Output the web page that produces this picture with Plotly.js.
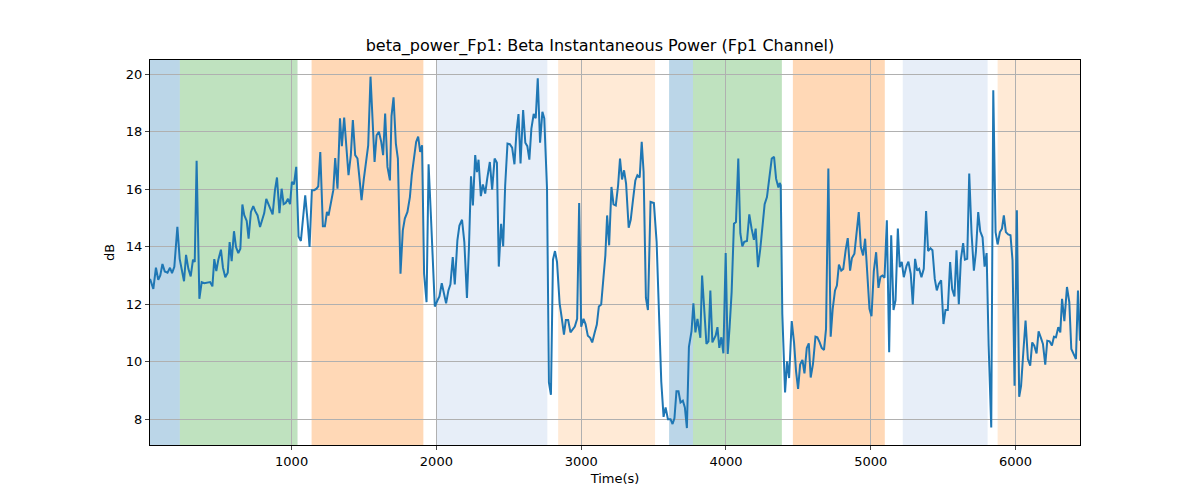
<!DOCTYPE html>
<html>
<head>
<meta charset="utf-8">
<script src="https://cdn.plot.ly/plotly-3.0.1.min.js"></script>
<style>body{margin:0;background:#fff}</style>
</head>
<body>
<div id="chart" style="width:1200px;height:500px"></div>
<script>
const timeS = [22,45,63,79,93,108,124,143,160,174,190,211,227,241,257,271,287,303,319,331,344,363,379,397,420,437,453,466,480,494,512,526,542,559,572,586,602,616,632,646,660,673,690,703,719,735,749,765,782,798,811,825,839,853,869,885,899,916,931,945,959,975,989,1002,1016,1032,1048,1064,1078,1094,1110,1124,1140,1156,1172,1184,1198,1216,1230,1244,1255,1271,1288,1301,1317,1334,1347,1363,1377,1393,1409,1423,1439,1455,1469,1483,1499,1515,1529,1545,1559,1573,1587,1603,1619,1632,1646,1662,1679,1690,1704,1720,1734,1752,1768,1782,1800,1817,1830,1846,1860,1874,1888,1901,1915,1932,1946,1961,1975,1989,2007,2021,2037,2051,2067,2083,2097,2113,2127,2145,2159,2177,2193,2211,2225,2239,2252,2268,2280,2291,2307,2321,2337,2351,2369,2385,2402,2418,2431,2447,2461,2475,2491,2507,2523,2539,2553,2567,2581,2599,2614,2628,2642,2656,2672,2686,2700,2716,2732,2745,2764,2777,2791,2805,2819,2833,2851,2865,2881,2894,2910,2926,2943,2956,2972,2986,3000,3016,3030,3046,3062,3076,3092,3108,3122,3138,3154,3167,3179,3193,3209,3223,3239,3255,3268,3282,3296,3310,3328,3342,3358,3374,3388,3404,3418,3431,3447,3461,3479,3502,3521,3534,3553,3569,3583,3599,3617,3631,3644,3658,3672,3686,3702,3716,3730,3744,3762,3775,3789,3803,3812,3823,3835,3849,3865,3879,3892,3906,3918,3929,3941,3954,3968,3982,3998,4012,4025,4039,4055,4069,4085,4099,4113,4126,4145,4161,4177,4193,4205,4221,4237,4251,4267,4283,4296,4316,4332,4346,4362,4371,4378,4389,4408,4422,4436,4454,4470,4484,4498,4512,4528,4542,4558,4572,4585,4601,4618,4631,4647,4661,4677,4691,4707,4723,4737,4753,4766,4780,4796,4810,4827,4841,4857,4870,4887,4901,4917,4931,4947,4961,4975,4991,5005,5021,5037,5053,5067,5081,5095,5111,5127,5141,5157,5171,5187,5200,5214,5228,5247,5260,5276,5290,5306,5320,5334,5350,5366,5382,5396,5412,5426,5442,5456,5470,5486,5502,5516,5532,5548,5562,5578,5592,5608,5622,5638,5650,5666,5680,5696,5712,5726,5742,5756,5772,5786,5800,5814,5832,5846,5862,5876,5892,5906,5919,5933,5949,5965,5979,5993,6009,6025,6038,6055,6069,6085,6101,6115,6129,6145,6159,6175,6189,6205,6219,6235,6251,6265,6279,6295,6309,6321,6337,6355,6371,6385,6401,6417,6431,6445];
const powerDb = [12.88,12.53,13.27,12.85,13.0,13.4,13.14,13.1,13.27,13.08,13.3,14.69,13.58,13.23,12.8,13.72,13.23,12.97,13.55,13.47,16.99,12.19,12.77,12.73,12.76,12.77,12.62,13.57,13.15,13.55,13.9,13.27,12.94,13.1,14.16,13.5,14.54,13.99,13.78,13.93,15.47,15.1,14.9,14.28,15.21,15.41,15.24,15.09,14.69,14.94,15.17,15.67,15.5,15.33,15.13,15.97,16.41,15.17,16.02,15.48,15.52,15.67,15.48,16.26,16.17,16.78,14.36,14.2,15.03,15.79,14.92,13.99,15.97,15.97,16.02,16.1,17.3,14.71,14.71,15.21,15.09,15.56,15.97,17.09,16.02,18.47,17.5,18.5,17.45,16.49,17.19,18.41,17.19,17.07,16.37,15.62,16.37,17.01,17.53,19.92,18.17,16.95,17.88,18.0,17.65,17.19,18.64,16.78,16.31,18.55,19.2,17.59,17.07,13.06,14.57,14.98,15.21,15.73,16.49,17.19,17.65,17.83,17.3,17.53,13.06,12.07,16.87,15.21,13.81,11.92,12.13,12.27,12.73,12.36,12.03,12.48,12.69,13.64,12.69,14.22,14.74,14.94,14.16,12.22,14.0,16.45,15.44,17.19,16.6,17.03,15.76,16.17,15.85,16.37,16.95,15.99,17.07,16.92,13.31,14.8,14.01,16.14,17.59,17.57,17.45,16.87,18.0,18.62,16.9,18.76,17.62,17.5,17.03,18.11,18.62,18.47,19.86,17.62,18.7,18.47,16.02,9.28,8.85,13.55,13.85,13.47,12.03,11.55,10.94,11.45,11.45,11.02,11.14,11.22,11.49,15.52,11.22,11.49,11.31,10.9,10.83,10.67,10.99,11.29,11.92,11.99,12.94,13.7,15.09,14.05,16.08,15.48,15.44,16.14,17.07,16.34,16.66,16.2,14.66,14.94,15.64,16.31,16.49,16.41,17.65,16.6,12.22,11.8,15.56,15.52,14.16,11.95,9.31,8.08,8.41,8.0,8.0,7.83,8.03,8.97,8.97,8.58,8.64,8.41,7.69,10.52,11.06,12.03,11.02,11.49,11.2,10.83,13.0,11.72,10.62,10.71,12.48,10.67,10.79,10.91,11.2,10.48,10.85,10.29,13.78,10.27,11.2,12.42,14.8,14.86,17.07,14.47,14.01,14.17,14.2,15.13,14.63,14.24,14.63,13.29,13.93,14.74,15.48,15.73,16.26,17.07,17.13,16.37,16.06,16.22,16.14,11.66,8.93,10.01,9.43,11.41,10.67,9.66,9.05,9.9,10.06,9.59,10.48,10.64,9.45,9.92,10.87,10.85,10.67,10.48,10.41,11.14,16.72,10.87,11.84,12.48,12.65,13.38,13.17,13.23,13.9,14.3,13.17,13.61,13.76,14.4,15.21,14.0,13.7,14.28,13.23,11.84,11.58,13.15,13.81,12.57,12.95,13.0,12.92,14.92,10.33,14.4,11.8,12.13,14.63,13.29,13.47,12.94,13.34,13.48,13.06,11.99,13.58,13.17,13.23,12.94,13.23,15.24,13.85,13.95,13.88,12.88,12.48,12.71,12.83,11.31,11.8,11.8,13.47,12.53,12.27,13.88,12.0,13.55,14.13,13.55,13.58,16.55,14.47,13.17,13.81,15.21,14.54,14.33,13.31,13.78,10.56,7.71,19.45,14.51,14.08,14.51,14.63,15.09,14.51,14.43,14.4,13.52,9.16,15.27,8.78,9.16,10.44,11.43,10.09,9.86,10.67,10.56,10.29,11.06,10.83,10.62,9.9,10.73,10.71,10.56,10.87,10.85,11.2,11.02,12.19,11.41,12.6,12.07,10.44,10.24,10.09,12.48,10.73];

// shaded segments
const segStart = [22, 228, 1138, 2000, 2841, 3607, 3772, 4462, 5221, 5876];
const segEnd   = [228, 1041, 1910, 2766, 3510, 3772, 4386, 5097, 5807, 6445];
const segColor = ['rgba(31,119,180,0.3)','rgba(44,160,44,0.3)','rgba(255,127,14,0.3)','rgba(174,199,232,0.3)','rgba(255,187,120,0.3)',
                  'rgba(31,119,180,0.3)','rgba(44,160,44,0.3)','rgba(255,127,14,0.3)','rgba(174,199,232,0.3)','rgba(255,187,120,0.3)'];

const shapes = segStart.map((s, i) => ({
    type: 'rect', xref: 'x', yref: 'paper', x0: s, x1: segEnd[i], y0: 0, y1: 1,
    fillcolor: segColor[i], line: {width: 0}, layer: 'below'
}))

const data = [{
    x: timeS, y: powerDb, type: 'scatter', mode: 'lines',
    line: {color: '#1f77b4', width: 2}
}]

const layout = {
    font: {family: 'DejaVu Sans', size: 13, color: '#000'},
    title: {text: 'beta_power_Fp1: Beta Instantaneous Power (Fp1 Channel)', font: {size: 16}, x: 0.5, y: 0.91, yanchor: 'middle'},
    margin: {l: 150, r: 120, t: 60, b: 55},
    showlegend: false,
    hovermode: false,
    plot_bgcolor: '#fff', paper_bgcolor: '#fff',
    shapes: shapes,
    xaxis: {
        title: {text: 'Time(s)', font: {size: 13}, standoff: 6},
        range: [22, 6445], tickvals: [1000, 2000, 3000, 4000, 5000, 6000],
        showgrid: true, gridcolor: '#b0b0b0', gridwidth: 1, zeroline: false,
        showline: true, linecolor: '#000', mirror: true, ticks: 'outside', ticklen: 4
    },
    yaxis: {
        title: {text: 'dB', font: {size: 13}, standoff: 8},
        range: [7.1, 20.5], tickvals: [8, 10, 12, 14, 16, 18, 20],
        showgrid: true, gridcolor: '#b0b0b0', gridwidth: 1, zeroline: false,
        showline: true, linecolor: '#000', mirror: true, ticks: 'outside', ticklen: 4
    }
}

Plotly.newPlot('chart', data, layout, {displayModeBar: false, staticPlot: true})
</script>
</body>
</html>
